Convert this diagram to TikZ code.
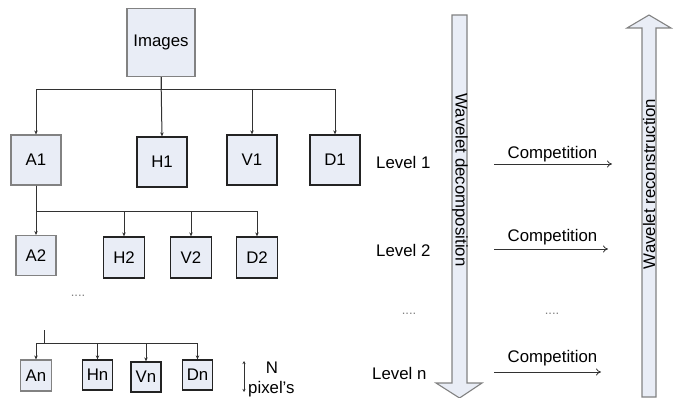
\documentclass[tikz,border=0pt]{standalone}
\usepackage{fontspec}
\setmainfont{Liberation Sans}
\usetikzlibrary{arrows.meta}
\definecolor{boxfill}{RGB}{233,237,246}
\definecolor{lightedge}{RGB}{130,130,130}
\definecolor{darkedge}{RGB}{35,35,35}
\definecolor{linecol}{RGB}{50,50,50}
\begin{document}
\begin{tikzpicture}[x=1pt,y=-1pt,
  every node/.style={font=\fontsize{16.8}{20}\selectfont, inner sep=0pt},
  lbox/.style={draw=lightedge, line width=1.1pt, fill=boxfill, minimum width=#1, minimum height=#1},
  dbox/.style={draw=darkedge, line width=1.3pt, fill=boxfill, minimum width=#1, minimum height=#1},
  conn/.style={draw=linecol, line width=1pt, -{Stealth[length=4pt,width=3.5pt]}},
  plainline/.style={draw=linecol, line width=1pt},
  comp/.style={draw=linecol, line width=0.8pt, -{To[length=5pt,width=7pt]}},
  bigarrow/.style={draw=lightedge, line width=1.1pt, fill=boxfill},
  dotsstyle/.style={font=\fontsize{13}{14}\selectfont, text=gray}
]
\useasboundingbox (0,0) rectangle (674,398);

% level 0
\node[lbox=68pt] (img) at (161,42.5) {Images};
% level 1
\node[lbox=50pt] (A1) at (36,160) {A1};
\node[dbox=50pt] (H1) at (162,162) {H1};
\node[dbox=50pt] (V1) at (252,160) {V1};
\node[dbox=50pt] (D1) at (335,160) {D1};
\draw[conn] (img.south) -- ++(0,12) -| (A1.north);
\draw[conn] (img.south) -- (H1.north);
\draw[conn] (img.south) -- ++(0,12) -| (V1.north);
\draw[conn] (img.south) -- ++(0,12) -| (D1.north);
% level 2
\node[lbox=40pt] (A2) at (36,255.5) {A2};
\node[dbox=41pt] (H2) at (124,257.5) {H2};
\node[dbox=41pt] (V2) at (191,257.5) {V2};
\node[dbox=41pt] (D2) at (257,257.5) {D2};
\draw[conn] (A1.south) -- (A2.north);
\draw[conn] (A1.south) -- ++(0,26) -| (H2.north);
\draw[conn] (A1.south) -- ++(0,26) -| (V2.north);
\draw[conn] (A1.south) -- ++(0,26) -| (D2.north);
\node[dotsstyle] (dots1) at (78,296) {....};
% level n
\coordinate (stub) at (44,330);
\node[lbox=31pt] (An) at (36,375.5) {An};
\node[dbox=30pt] (Hn) at (97.5,375) {Hn};
\node[dbox=30pt] (Vn) at (146,377) {Vn};
\node[dbox=30pt] (Dn) at (197.5,375) {Dn};
\draw[plainline] (stub) -- ++(0,13) coordinate (jn);
\draw[conn] (jn) -| (An.north);
\draw[conn] (jn) -| (Hn.north);
\draw[conn] (jn) -| (Vn.north);
\draw[conn] (jn) -| (Dn.north);
% N pixel's
\coordinate (nt) at (244,361);
\coordinate (nb) at (244,392);
\draw[draw=linecol, line width=0.8pt, {Stealth[length=3pt,width=3pt]}-{Stealth[length=3pt,width=3pt]}] (nt) -- (nb);
\node (N) at (272,368) {N};
\node[anchor=west] (pix) at (248,389) {pixel's};

% right side: levels
\node[anchor=west] (L1) at (376,162) {Level 1};
\node[anchor=west] (L2) at (376,250) {Level 2};
\node[dotsstyle] (dots2) at (409,314) {....};
\node[anchor=west] (Ln) at (372,373) {Level n};

% big arrows
\draw[bigarrow] (452,15) -- (467,15) -- (467,383) -- (482,383) -- (459.5,398) -- (436,383) -- (452,383) -- cycle;
\node[rotate=-90] (dec) at (460,180) {Wavelet decomposition};
\draw[bigarrow] (642,397) -- (642,28) -- (627,28) -- (649,15) -- (671,28) -- (656,28) -- (656,397) -- cycle;
\node[rotate=90] (rec) at (649,184) {Wavelet reconstruction};

% competition
\coordinate (c1s) at (494,164); \coordinate (c1e) at (612,164);
\coordinate (c2s) at (494,249); \coordinate (c2e) at (608,249);
\coordinate (c3s) at (494,372); \coordinate (c3e) at (601,372);
\draw[comp] (c1s) -- (c1e);
\draw[comp] (c2s) -- (c2e);
\draw[comp] (c3s) -- (c3e);
\node (t1) at (552.5,154) {Competition};
\node (t2) at (552.5,237) {Competition};
\node (t3) at (552.5,358) {Competition};
\node[dotsstyle] (dots3) at (552,314) {....};
\end{tikzpicture}
\end{document}
